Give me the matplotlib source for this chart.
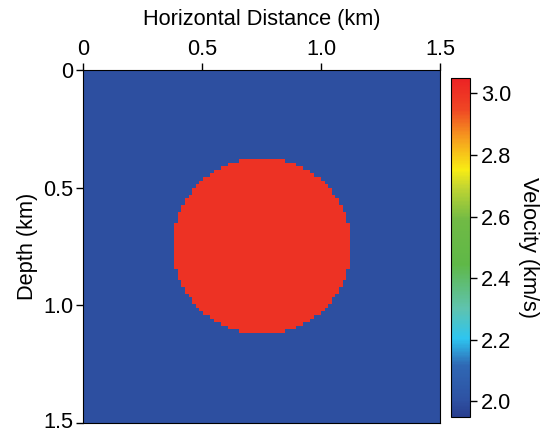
import numpy as np
import matplotlib.pyplot as plt
import matplotlib.transforms as mtransforms
from matplotlib.colors import LinearSegmentedColormap

plt.rcParams['font.family'] = ['Liberation Sans', 'DejaVu Sans']
plt.rcParams['font.size'] = 15.7

# model description (grid nodes from 0 to 1.5 km)
nx = 101
nz = 101
dx = 0.015                # km
v_background = 2.0        # km/s
v_anomaly = 3.0           # km/s
anomaly_center = [0.75, 0.75]   # x, z (km)
anomaly_radius = 0.373    # km

xticks = [0, 0.5, 1.0, 1.5]
xtick_labels = ["0", "0.5", "1.0", "1.5"]
yticks = [0, 0.5, 1.0, 1.5]
ytick_labels = ["0", "0.5", "1.0", "1.5"]
cbar_ticks = [2.0, 2.2, 2.4, 2.6, 2.8, 3.0]
cbar_labels = ["2.0", "2.2", "2.4", "2.6", "2.8", "3.0"]
vmin, vmax = 1.95, 3.05

# build the velocity grid
x = np.arange(nx) * dx
z = np.arange(nz) * dx
X, Z = np.meshgrid(x, z)
vel = np.full((nz, nx), v_background)
inside = (X - anomaly_center[0])**2 + (Z - anomaly_center[1])**2 <= anomaly_radius**2
vel[inside] = v_anomaly

# colour map similar to the reference
anchors = [
    (0.00, "#293f8f"),
    (0.05, "#2e52a3"),
    (0.15, "#2f68b4"),
    (0.23, "#2ec5f0"),
    (0.32, "#5fc3ae"),
    (0.45, "#5fb847"),
    (0.58, "#70ba45"),
    (0.68, "#c4d631"),
    (0.73, "#f8ec14"),
    (0.82, "#f6a01e"),
    (0.91, "#ef4524"),
    (1.00, "#ec2224"),
]
cmap = LinearSegmentedColormap.from_list("vel", anchors)

fig = plt.figure(figsize=(5.43, 4.32), dpi=100)
ax = fig.add_axes([0.1529, 0.0208, 0.6575, 0.8172])
im = ax.imshow(vel, cmap=cmap, vmin=vmin, vmax=vmax,
               extent=[x[0] - dx/2, x[-1] + dx/2, z[-1] + dx/2, z[0] - dx/2],
               interpolation="nearest", aspect="auto")
ax.set_xlim(0, 1.5)
ax.set_ylim(1.5, 0)
ax.xaxis.tick_top()
ax.xaxis.set_label_position("top")
ax.set_xticks(xticks)
ax.set_xticklabels(xtick_labels)
ax.set_yticks(yticks)
ax.set_yticklabels(ytick_labels)
ax.tick_params(direction="out", length=5, width=1, pad=2)
ax.set_xlabel("Horizontal Distance (km)", labelpad=10)
ax.set_ylabel("Depth (km)", labelpad=4)

# nudge the bottom depth label up a little so it stays inside the figure
last = ax.get_yticklabels()[-1]
last.set_transform(last.get_transform() +
                   mtransforms.ScaledTranslation(0, 2/72, fig.dpi_scale_trans))

cax = fig.add_axes([0.8306, 0.0354, 0.035, 0.784])
cb = fig.colorbar(im, cax=cax)
cb.set_ticks(cbar_ticks)
cb.set_ticklabels(cbar_labels)
cax.tick_params(direction="out", length=5, width=1, pad=3)
cb.set_label("Velocity (km/s)", rotation=-90, labelpad=20)

fig.savefig("out.png", dpi=100)
